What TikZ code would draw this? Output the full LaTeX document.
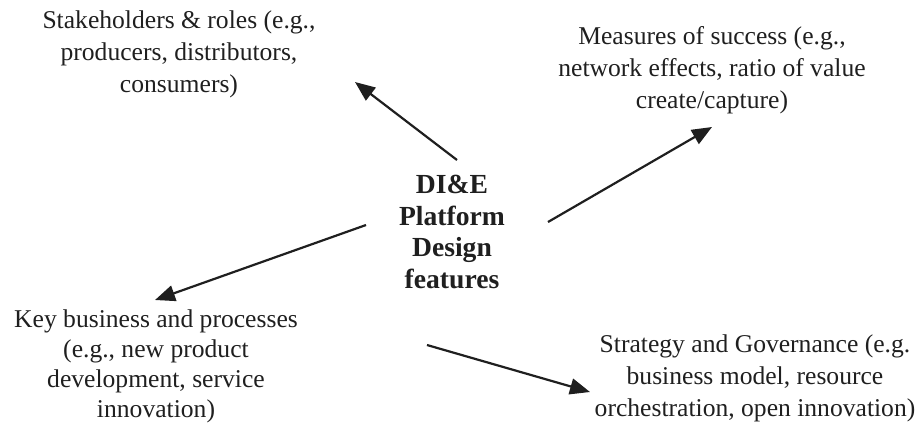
\documentclass[tikz,border=0pt]{standalone}
\usepackage{fontspec}
\setmainfont{Liberation Serif}
\usetikzlibrary{arrows.meta}
\begin{document}
\begin{tikzpicture}[x=0.5pt,y=-0.5pt,
  lbl/.style={align=center,font=\fontsize{12.8}{16}\selectfont,inner sep=0pt,text=black!88},
  hub/.style={align=center,font=\fontsize{13.8}{15.9}\selectfont\bfseries,inner sep=0pt,text=black!88},
  arr/.style={line width=1.1pt,draw=black!88,-{Triangle[length=10pt,width=8pt]}}]
\useasboundingbox (0,0) rectangle (919,425);
\node[lbl] (stake) at (179,54) {Stakeholders \& roles (e.g.,\\producers, distributors,\\consumers)};
\node[lbl] (meas) at (712,70) {Measures of success (e.g.,\\network effects, ratio of value\\create/capture)};
\node[hub] (hub) at (452,232) {DI\&E\\Platform\\Design\\features};
\node[lbl,font=\fontsize{12.8}{15}\selectfont] (key) at (156,366) {Key business and processes\\(e.g., new product\\development, service\\innovation)};
\node[lbl] (strat) at (755,378) {Strategy and Governance (e.g.\\business model, resource\\orchestration, open innovation)};
\coordinate (t1) at (457,160); \coordinate (h1) at (355,82);
\coordinate (t2) at (548,222); \coordinate (h2) at (712,127);
\coordinate (t3) at (366,225); \coordinate (h3) at (155,300);
\coordinate (t4) at (427,345); \coordinate (h4) at (590,392);
\draw[arr] (t1) -- (h1);
\draw[arr] (t2) -- (h2);
\draw[arr] (t3) -- (h3);
\draw[arr] (t4) -- (h4);
\end{tikzpicture}
\end{document}
